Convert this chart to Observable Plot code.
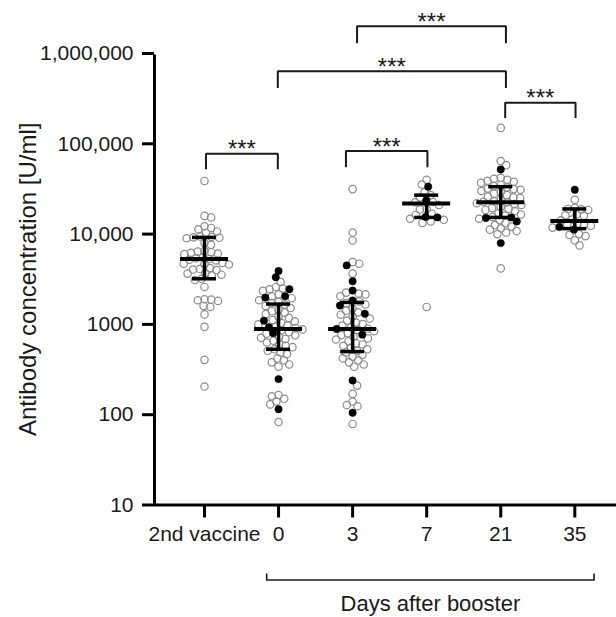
<!DOCTYPE html>
<html><head><meta charset="utf-8">
<script src="https://cdn.jsdelivr.net/npm/d3@7"></script>
<script src="https://cdn.jsdelivr.net/npm/@observablehq/plot@0.6"></script>
<style>
body{margin:0;background:#fff;}
#chart svg{font-family:"Liberation Sans", Arial, sans-serif;}
</style></head><body><div id="chart"></div>
<script>
// ---- data ----
const categories = ["2nd vaccine", "0", "3", "7", "21", "35"];

const open2nd = [38800, 15900, 15300, 12200, 11700, 11300, 10700, 10300, 9400, 9300, 9200, 9100, 9000, 8000, 7600, 6500, 6400, 6300, 6200, 6100, 6000, 5500, 5400, 5300, 5200, 5100, 4800, 4700, 4650, 4600, 4200, 4100, 4050, 4000, 3700, 3650, 3550, 3500, 3200, 3100, 2600, 1900, 1880, 1850, 1820, 1600, 1560, 1290, 940, 405, 205];
const filled2nd = [];

const open0 = [2950, 2600, 2500, 2450, 2350, 2150, 2050, 1950, 1850, 1780, 1720, 1660, 1600, 1520, 1460, 1400, 1350, 1300, 1220, 1180, 1120, 1080, 1040, 1000, 970, 940, 910, 880, 860, 820, 790, 760, 730, 710, 690, 660, 630, 600, 580, 560, 530, 510, 490, 470, 420, 400, 380, 360, 340, 165, 160, 150, 140, 130, 83];
const filled0 = [3900, 3330, 2450, 2050, 1980, 1100, 930, 800, 248, 115];

const open3 = [31500, 10400, 8500, 4900, 4700, 3650, 2250, 2200, 2150, 2050, 1800, 1720, 1660, 1500, 1420, 1360, 1280, 1220, 1160, 1100, 1050, 1010, 970, 930, 900, 870, 840, 800, 760, 730, 700, 680, 650, 620, 600, 580, 550, 530, 510, 490, 460, 440, 420, 400, 380, 360, 340, 210, 170, 140, 128, 124, 79];
const filled3 = [4500, 3000, 2370, 1840, 1620, 1310, 890, 770, 239, 105];

const open7 = [39900, 35400, 29000, 27000, 25500, 22700, 22500, 21000, 18900, 18700, 16800, 16300, 14800, 14400, 13800, 13300, 1560];
const filled7 = [33500, 23600, 15500, 15300];

const open21 = [150000, 64500, 58000, 42000, 41000, 40000, 39000, 38000, 37000, 35000, 34000, 33000, 32000, 31500, 31000, 30000, 29000, 28000, 27000, 26000, 25500, 25000, 24000, 23000, 22800, 22500, 22000, 21500, 21000, 20000, 19500, 19000, 18500, 18000, 17000, 16500, 16000, 15500, 14800, 14300, 13200, 12600, 12100, 11600, 11200, 10800, 10400, 10000, 4170];
const filled21 = [52000, 15300, 15100, 13800, 7950];

const open35 = [24000, 19500, 19000, 18800, 18500, 16500, 16200, 16000, 14500, 14200, 13000, 12800, 12600, 12400, 11800, 10000, 9800, 9500, 8500, 7500];
const filled35 = [31000, 12000, 11200];

const medians = [5300, 890, 890, 21800, 22500, 14000];
const q1 = [3200, 530, 500, 15300, 15300, 11500];
const q3 = [9200, 1680, 1750, 27000, 33500, 19000];

const yTicks = [10, 100, 1000, 10000, 100000, 1000000];
const yTickLabels = ["10", "100", "1000", "10,000", "100,000", "1,000,000"];
const yLabel = "Antibody concentration [U/ml]";

// significance brackets (x as category index, y in U/ml)
const bracketFrom = [0.02, 1.91, 2.06, 0.99, 4.06];
const bracketTo = [0.99, 3.01, 4.07, 4.07, 5.01];
const bracketTop = [77800, 83200, 2005000, 635000, 284600];
const bracketBottom = [53500, 56300, 1333000, 426000, 198000];
const bracketLabel = ["***", "***", "***", "***", "***"];

// group bracket below the axis
const groupFrom = 0.84, groupTo = 5.26, groupLevel = 1.48, groupTip = 1.72;
const groupLabel = "Days after booster";

// ---- layout ----
const W = 616, H = 617, ML = 154, MR = 0, MT = 53, MB = 112.5;
const xDomain = [-0.675, 5.563];
const yDomain = [10, 1000000];
const R = 3.7, SPACING = 6.8;

const xs = Plot.scale({x: {domain: xDomain, range: [ML, W - MR]}});
const ys = Plot.scale({y: {type: "log", domain: yDomain, range: [H - MB, MT]}});
const stepPx = xs.apply(1) - xs.apply(0);

const groups = [
  [open2nd, filled2nd], [open0, filled0], [open3, filled3],
  [open7, filled7], [open21, filled21], [open35, filled35]
];

const points = [];
groups.forEach(([op, fi], gi) => {
  const pts = [
    ...op.map(v => ({group: gi, value: v, filled: false})),
    ...fi.map(v => ({group: gi, value: v, filled: true}))
  ];
  pts.forEach(p => p.py = ys.apply(p.value));
  pts.sort((a, b) => a.py - b.py);
  const placed = [];
  let flip = 1;
  for (const p of pts) {
    const near = placed.filter(q => Math.abs(q.py - p.py) < SPACING);
    const cands = [0];
    for (const q of near) {
      const d = Math.sqrt(SPACING * SPACING - (q.py - p.py) ** 2);
      cands.push(q.px + d, q.px - d);
    }
    cands.sort((a, b) => Math.abs(a) - Math.abs(b) || flip * (b - a));
    p.px = 0;
    for (const c of cands) {
      if (near.every(q => (q.px - c) ** 2 + (q.py - p.py) ** 2 >= SPACING * SPACING - 1e-6)) { p.px = c; break; }
    }
    flip = -flip;
    placed.push(p);
  }
  pts.forEach(p => { p.x = gi + p.px / stepPx; points.push(p); });
});

const stats = categories.map((c, i) => ({i, med: medians[i], lo: q1[i], hi: q3[i]}));
const brackets = bracketFrom.map((a, i) => ({a, b: bracketTo[i], top: bracketTop[i], bot: bracketBottom[i], label: bracketLabel[i]}));
const bracketPath = brackets.flatMap((d, k) => [
  {k, x: d.a, y: d.bot}, {k, x: d.a, y: d.top}, {k, x: d.b, y: d.top}, {k, x: d.b, y: d.bot}
]);
const groupPath = [
  {x: groupFrom, y: groupTip}, {x: groupFrom, y: groupLevel},
  {x: groupTo, y: groupLevel}, {x: groupTo, y: groupTip}
];

const MED_HALF = 24 / stepPx, CAP_HALF = 12 / stepPx;
const ink = "#1a1a1a";

const chart = Plot.plot({
  width: W, height: H,
  marginLeft: ML, marginRight: MR, marginTop: MT, marginBottom: MB,
  style: {fontFamily: "'Liberation Sans', Arial, sans-serif", color: ink, background: "white"},
  x: {domain: xDomain, axis: null},
  y: {type: "log", domain: yDomain, axis: null},
  marks: [
    Plot.axisY({ticks: yTicks, tickFormat: d => yTickLabels[yTicks.indexOf(d)], tickSize: 12, tickPadding: 9, fontSize: 21, strokeWidth: 3, stroke: "black", fill: ink, label: null}),
    Plot.axisX({ticks: d3.range(categories.length), tickFormat: d => categories[d], tickSize: 13, tickPadding: 8, fontSize: 21, strokeWidth: 3, stroke: "black", fill: ink, label: null}),
    Plot.ruleY([yDomain[0]], {stroke: "black", strokeWidth: 3}),
    Plot.ruleX([xDomain[0]], {stroke: "black", strokeWidth: 3, y1: yDomain[0], y2: yDomain[1], insetBottom: -1.5}),
    Plot.dot(points.filter(p => !p.filled), {x: "x", y: "value", r: R, stroke: "#8c8c8c", strokeWidth: 1.2, fill: "none"}),
    Plot.dot(points.filter(p => p.filled), {x: "x", y: "value", r: R, fill: "black", stroke: "black", strokeWidth: 0.5}),
    Plot.ruleX(stats, {x: "i", y1: "lo", y2: "hi", stroke: "black", strokeWidth: 3.5}),
    Plot.ruleY(stats, {y: "med", x1: d => d.i - MED_HALF, x2: d => d.i + MED_HALF, stroke: "black", strokeWidth: 4}),
    Plot.ruleY(stats, {y: "lo", x1: d => d.i - CAP_HALF, x2: d => d.i + CAP_HALF, stroke: "black", strokeWidth: 3.5}),
    Plot.ruleY(stats, {y: "hi", x1: d => d.i - CAP_HALF, x2: d => d.i + CAP_HALF, stroke: "black", strokeWidth: 3.5}),
    Plot.line(bracketPath, {x: "x", y: "y", z: "k", stroke: ink, strokeWidth: 2, strokeLinejoin: "miter", strokeLinecap: "square"}),
    Plot.text(brackets, {x: d => (d.a + d.b) / 2, y: "top", text: "label", fontSize: 24, dy: -4, fill: ink}),
    Plot.line(groupPath, {x: "x", y: "y", stroke: ink, strokeWidth: 1.6}),
    Plot.text([groupLabel], {x: (groupFrom + groupTo) / 2, y: groupLevel, text: d => d, fontSize: 22, dy: 24, fill: ink}),
    Plot.text([yLabel], {frameAnchor: "left", textAnchor: "middle", text: d => d, rotate: -90, dx: -126, fontSize: 24, fill: ink})
  ]
});
document.getElementById("chart").appendChild(chart);
</script>
</body></html>
